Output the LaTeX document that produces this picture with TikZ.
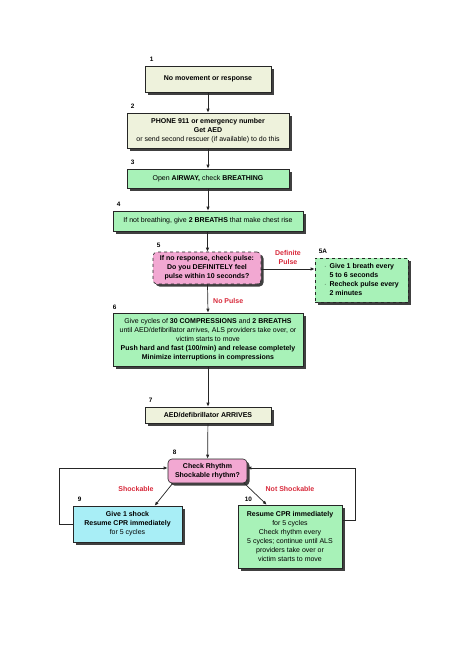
\documentclass[tikz,border=0pt]{standalone}
\usepackage{fontspec}
\setmainfont{Liberation Sans}
\usetikzlibrary{shadows,arrows.meta,calc}
\definecolor{beigebox}{HTML}{EEF2DC}
\definecolor{greenbox}{HTML}{A8F2B8}
\definecolor{pinkbox}{HTML}{F2A8D2}
\definecolor{cyanbox}{HTML}{A8EEF6}
\definecolor{redlab}{HTML}{D8283A}
\newcommand\boxfont{\fontsize{7}{9}\selectfont}
\newcommand\numfont{\fontsize{6.4}{7}\selectfont\bfseries}
\begin{document}
\begin{tikzpicture}[x=1pt,y=-1pt,
  box/.style={draw=black!85, line width=0.6pt, inner sep=0pt, align=center, font=\boxfont,
    drop shadow={shadow xshift=2.5pt, shadow yshift=-2.5pt, fill=black!75, opacity=1}},
  beige/.style={box, fill=beigebox},
  green/.style={box, fill=greenbox},
  pink/.style={box, fill=pinkbox, rounded corners=4pt},
  cyan/.style={box, fill=cyanbox},
  num/.style={font=\numfont, anchor=south west, inner sep=0pt},
  redl/.style={font=\boxfont\bfseries, text=redlab, align=center, inner sep=0pt},
  arr/.style={draw=black!85, line width=0.7pt, -{Latex[length=4pt,width=3.4pt]}},
  line/.style={draw=black!85, line width=0.7pt}]
\useasboundingbox[fill=white] (0,0) rectangle (474,670);

\node[beige, minimum width=126pt, minimum height=26pt] (n1) at (208,79) {\textbf{No movement or response}};
\node[beige, minimum width=162pt, minimum height=35pt] (n2) at (208,130.5) {\textbf{PHONE 911 or emergency number}\\\textbf{Get AED}\\or send second rescuer (if available) to do this};
\node[green, minimum width=162pt, minimum height=19pt] (n3) at (208,178.5) {Open \textbf{AIRWAY,} check \textbf{BREATHING}};
\node[green, minimum width=190pt, minimum height=20pt] (n4) at (208,221) {If not breathing, give \textbf{2 BREATHS} that make chest rise};
\node[pink, dashed, minimum width=108pt, minimum height=32pt] (n5) at (207,268) {\textbf{If no response, check pulse:}\\\textbf{Do you DEFINITELY feel}\\\textbf{pulse within 10 seconds?}};
\node[green, dashed, minimum width=93pt, minimum height=44pt, align=left] (n5a) at (361.5,280) {\renewcommand\arraystretch{1.0}\begin{tabular}{@{}l@{\hspace{3pt}}l@{}}
 $\cdot$ & \textbf{Give 1 breath every}\\
  & \textbf{5 to 6 seconds}\\
 $\cdot$ & \textbf{Recheck pulse every}\\
  & \textbf{2 minutes}\end{tabular}};
\node[green, minimum width=190pt, minimum height=53pt] (n6) at (208,339.5) {Give cycles of \textbf{30 COMPRESSIONS} and \textbf{2 BREATHS}\\until AED/defibrillator arrives, ALS providers take over, or\\victim starts to move\\\textbf{Push hard and fast (100/min) and release completely}\\\textbf{Minimize interruptions in compressions}};
\node[beige, minimum width=126pt, minimum height=16pt] (n7) at (208,415) {\textbf{AED/defibrillator ARRIVES}};
\node[pink, minimum width=79pt, minimum height=24pt] (n8) at (207.5,471) {\textbf{Check Rhythm}\\\textbf{Shockable rhythm?}};
\node[cyan, minimum width=109pt, minimum height=36pt] (n9) at (127.5,524) {\textbf{Give 1 shock}\\\textbf{Resume CPR immediately}\\for 5 cycles};
\node[green, minimum width=104pt, minimum height=63pt] (n10) at (290,536.5) {\textbf{Resume CPR immediately}\\for 5 cycles\\Check rhythm every\\5 cycles; continue until ALS\\providers take over or\\victim starts to move};

\node[num] (l1) at ([xshift=5pt,yshift=4pt]n1.north west) {1};
\node[num] (l2) at ([xshift=4pt,yshift=4pt]n2.north west) {2};
\node[num] (l3) at ([xshift=4pt,yshift=4pt]n3.north west) {3};
\node[num] (l4) at ([xshift=4pt,yshift=4pt]n4.north west) {4};
\node[num] (l5) at ([xshift=4pt,yshift=4pt]n5.north west) {5};
\node[num] (l5a) at ([xshift=4pt,yshift=4pt]n5a.north west) {5A};
\node[num] (l6) at ([xshift=0pt,yshift=3pt]n6.north west) {6};
\node[num] (l7) at ([xshift=4pt,yshift=4pt]n7.north west) {7};
\node[num] (l8) at ([xshift=5pt,yshift=4pt]n8.north west) {8};
\node[num] (l9) at ([xshift=5pt,yshift=4pt]n9.north west) {9};
\node[num] (l10) at ([xshift=7pt,yshift=3pt]n10.north west) {10};

\node[redl] (tdp) at (288,257.5) {Definite\\Pulse};
\node[redl, anchor=west] (tnp) at (213,301) {No Pulse};
\node[redl] (tsh) at (136,489) {Shockable};
\node[redl] (tns) at (290,489) {Not Shockable};

\draw[arr] (n1) -- (n2);
\draw[arr] (n2) -- (n3);
\draw[arr] (n3) -- (n4);
\draw[arr] (n4.south -| n5.north) ++(0.5,0) -- ([xshift=0.5pt]n5.north);
\draw[arr] ([yshift=-1pt]n5.east) -- ([yshift=-1pt]n5.east -| n5a.west);
\draw[arr] ([xshift=0.5pt]n5.south) -- (n6.north);
\draw[arr] (n6) -- (n7);
\draw[arr] (n7) -- (n8);
\draw[arr] ([xshift=5pt]n8.south west) -- ([xshift=82pt]n9.north west);
\draw[arr] ([xshift=-3pt]n8.south east) -- ([xshift=29pt]n10.north west);
\coordinate (cl) at (59,468);
\coordinate (cr) at (355,468);
\draw[arr] (n9.west) -| (cl) -- ([yshift=3pt]n8.west);
\draw[arr] ([yshift=16pt]n10.east) -| (cr) -- ([yshift=3pt]n8.east);
\end{tikzpicture}
\end{document}
